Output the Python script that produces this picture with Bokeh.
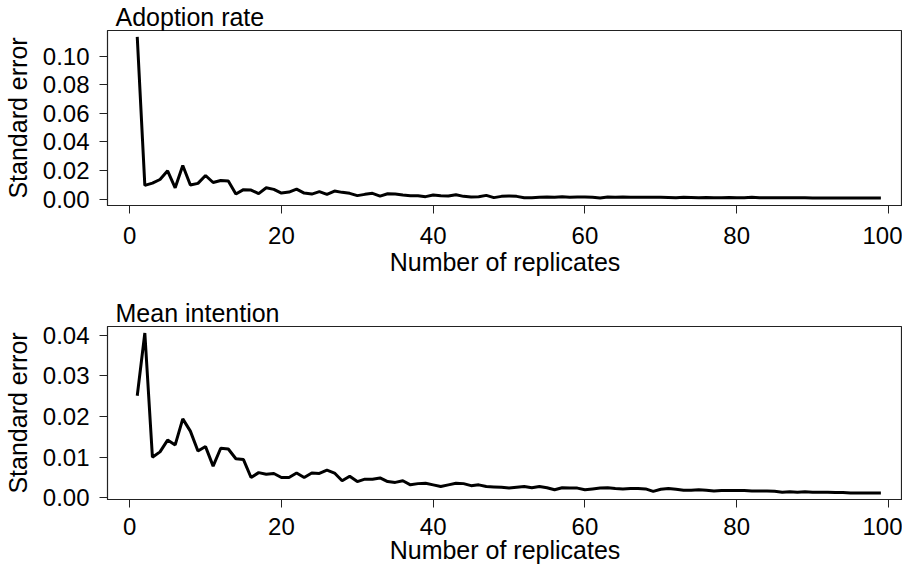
from bokeh.plotting import figure
from bokeh.layouts import column
from bokeh.models import Range1d, FixedTicker, PrintfTickFormatter
from bokeh.embed import file_html
from bokeh.resources import INLINE

replicates = list(range(1, 100))

adoption_se = [
    0.1135, 0.0096, 0.0112, 0.0137, 0.0198, 0.0079, 0.0235, 0.0098, 0.0110, 0.0165,
    0.0116, 0.0130, 0.0126, 0.0035, 0.0066, 0.0063, 0.0038, 0.0079, 0.0068, 0.0042,
    0.0049, 0.0070, 0.0042, 0.0035, 0.0052, 0.0033, 0.0056, 0.0047, 0.0040, 0.0024,
    0.0033, 0.0040, 0.0021, 0.0037, 0.0035, 0.0028, 0.0024, 0.0024, 0.0017, 0.0028,
    0.0023, 0.0021, 0.0030, 0.0019, 0.0014, 0.0016, 0.0026, 0.0010, 0.0019, 0.0021,
    0.0019, 0.0009, 0.0009, 0.0012, 0.0014, 0.0012, 0.0016, 0.0012, 0.0014, 0.0014,
    0.0012, 0.0008, 0.0014, 0.0013, 0.0014, 0.0013, 0.0012, 0.0012, 0.0013, 0.0012,
    0.0011, 0.0010, 0.0012, 0.0011, 0.0010, 0.0011, 0.0010, 0.0010, 0.0011, 0.0010,
    0.0010, 0.0012, 0.0010, 0.0009, 0.0009, 0.0009, 0.0009, 0.0009, 0.0009, 0.0008,
    0.0007, 0.0008, 0.0008, 0.0008, 0.0008, 0.0008, 0.0008, 0.0008, 0.0008,
]

intention_se = [
    0.0251, 0.0405, 0.0100, 0.0113, 0.0142, 0.0130, 0.0194, 0.0164, 0.0115, 0.0126,
    0.0078, 0.0122, 0.0120, 0.0096, 0.0094, 0.0050, 0.0062, 0.0058, 0.0060, 0.0050,
    0.0050, 0.0061, 0.0050, 0.0061, 0.0060, 0.0068, 0.0061, 0.0042, 0.0053, 0.0040,
    0.0046, 0.0046, 0.0049, 0.0040, 0.0038, 0.0042, 0.0032, 0.0035, 0.0036, 0.0032,
    0.0028, 0.0032, 0.0036, 0.0035, 0.0030, 0.0032, 0.0028, 0.0027, 0.0026, 0.0024,
    0.0026, 0.0028, 0.0025, 0.0028, 0.0025, 0.0020, 0.0025, 0.0024, 0.0024, 0.0020,
    0.0022, 0.0024, 0.0025, 0.0023, 0.0022, 0.0023, 0.0023, 0.0022, 0.0016, 0.0021,
    0.0023, 0.0021, 0.0019, 0.0019, 0.0020, 0.0019, 0.0017, 0.0018, 0.0018, 0.0018,
    0.0018, 0.0017, 0.0017, 0.0017, 0.0016, 0.0014, 0.0015, 0.0014, 0.0015, 0.0014,
    0.0014, 0.0014, 0.0013, 0.0013, 0.0012, 0.0012, 0.0012, 0.0012, 0.0012,
]

x_ticks = [0, 20, 40, 60, 80, 100]
adoption_ticks = [0.00, 0.02, 0.04, 0.06, 0.08, 0.10]
intention_ticks = [0.00, 0.01, 0.02, 0.03, 0.04]

FONT = "Liberation Sans"


def make_panel(title, values, y_start, y_end, yticks, frame_h, b_top, b_bottom,
               lab_standoff, axlab_standoff):
    p = figure(frame_width=795, frame_height=frame_h,
               output_backend="svg", toolbar_location=None,
               x_range=Range1d(-2.92, 101.85), y_range=Range1d(y_start, y_end),
               min_border_left=100, min_border_right=0,
               min_border_top=b_top, min_border_bottom=b_bottom)
    p.line(replicates, values, line_color="black", line_width=3)
    p.xgrid.visible = False
    p.ygrid.visible = False
    p.outline_line_color = "#222222"
    p.outline_line_width = 1.2
    p.background_fill_color = "white"
    p.border_fill_color = "white"

    p.title.text = title
    p.title.align = "left"
    p.title.offset = 8
    p.title.standoff = 0
    p.title.text_line_height = 1.0
    p.title.text_font = FONT
    p.title.text_font_size = "25px"
    p.title.text_font_style = "normal"
    p.title.text_color = "black"

    p.xaxis.ticker = FixedTicker(ticks=x_ticks)
    p.yaxis.ticker = FixedTicker(ticks=yticks)
    p.yaxis.formatter = PrintfTickFormatter(format="%.2f")
    p.xaxis.axis_label = "Number of replicates"
    p.yaxis.axis_label = "Standard error"
    for ax in (p.xaxis, p.yaxis):
        ax.axis_line_color = "#222222"
        ax.major_tick_line_color = "#222222"
        ax.major_tick_out = 8
        ax.major_tick_in = 0
        ax.minor_tick_line_color = None
        ax.major_label_text_font = FONT
        ax.major_label_text_font_size = "24px"
        ax.major_label_text_color = "black"
        ax.axis_label_text_font = FONT
        ax.axis_label_text_font_size = "25px"
        ax.axis_label_text_font_style = "normal"
        ax.axis_label_text_color = "black"
    p.xaxis.major_label_standoff = lab_standoff
    p.xaxis.axis_label_standoff = axlab_standoff
    p.yaxis.major_label_standoff = 10
    p.yaxis.axis_label_standoff = 8
    return p


p1 = make_panel("Adoption rate", adoption_se, -0.0045, 0.118, adoption_ticks,
                175, 26, 76, 13, 1)
p2 = make_panel("Mean intention", intention_se, -0.0004, 0.0421, intention_ticks,
                173, 45, 67, 10, -2)

layout = column(p1, p2, spacing=0)
open("out.html", "w").write(file_html(layout, INLINE))
